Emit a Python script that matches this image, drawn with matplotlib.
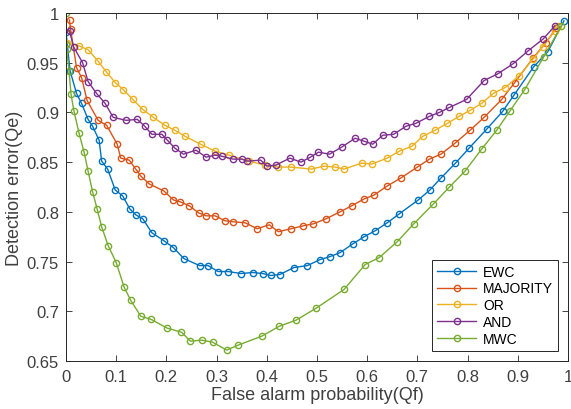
import matplotlib
matplotlib.use("Agg")
import matplotlib.pyplot as plt

plt.rcParams['font.family'] = ['Liberation Sans', 'DejaVu Sans']

# EWC
ewc_x = [0.0, 0.008, 0.021, 0.031, 0.044, 0.053, 0.066, 0.071, 0.083, 0.098, 0.113, 0.127,
         0.139, 0.153, 0.171, 0.195, 0.214, 0.235, 0.266, 0.283, 0.303, 0.323, 0.348, 0.373,
         0.392, 0.408, 0.426, 0.454, 0.481, 0.506, 0.526, 0.546, 0.572, 0.594, 0.616, 0.640,
         0.664, 0.702, 0.725, 0.747, 0.776, 0.803, 0.838, 0.870, 0.892, 0.932, 0.960, 0.992]
ewc_y = [0.981, 0.942, 0.919, 0.909, 0.893, 0.886, 0.872, 0.851, 0.843, 0.822, 0.816, 0.803,
         0.797, 0.793, 0.779, 0.771, 0.764, 0.753, 0.746, 0.746, 0.740, 0.740, 0.738, 0.739,
         0.738, 0.736, 0.737, 0.744, 0.746, 0.752, 0.755, 0.759, 0.768, 0.775, 0.781, 0.789,
         0.798, 0.812, 0.822, 0.834, 0.849, 0.864, 0.883, 0.901, 0.917, 0.946, 0.961, 0.992]

# MAJORITY
maj_x = [0.007, 0.009, 0.021, 0.031, 0.042, 0.064, 0.081, 0.102, 0.109, 0.126, 0.139, 0.149,
         0.166, 0.195, 0.214, 0.228, 0.246, 0.264, 0.279, 0.297, 0.317, 0.333, 0.357, 0.381,
         0.405, 0.423, 0.448, 0.473, 0.493, 0.518, 0.546, 0.569, 0.594, 0.614, 0.640, 0.667,
         0.700, 0.724, 0.747, 0.775, 0.805, 0.833, 0.868, 0.894, 0.931, 0.956, 0.977]
maj_y = [0.993, 0.984, 0.945, 0.935, 0.912, 0.892, 0.887, 0.868, 0.854, 0.852, 0.843, 0.836,
         0.828, 0.821, 0.812, 0.810, 0.806, 0.799, 0.796, 0.796, 0.791, 0.790, 0.789, 0.783,
         0.787, 0.780, 0.783, 0.786, 0.788, 0.793, 0.800, 0.806, 0.813, 0.817, 0.826, 0.834,
         0.845, 0.853, 0.858, 0.869, 0.882, 0.895, 0.913, 0.930, 0.955, 0.970, 0.985]

# OR
or_x = [0.002, 0.025, 0.044, 0.063, 0.080, 0.098, 0.114, 0.133, 0.153, 0.174, 0.197, 0.217,
        0.237, 0.268, 0.297, 0.325, 0.365, 0.396, 0.423, 0.448, 0.489, 0.514, 0.536, 0.554,
        0.589, 0.609, 0.640, 0.664, 0.689, 0.711, 0.735, 0.760, 0.783, 0.805, 0.828, 0.851,
        0.875, 0.903, 0.931, 0.950, 0.974, 0.980]
or_y = [0.970, 0.967, 0.963, 0.952, 0.941, 0.930, 0.923, 0.913, 0.903, 0.895, 0.887, 0.882,
        0.876, 0.868, 0.861, 0.857, 0.851, 0.847, 0.845, 0.845, 0.843, 0.846, 0.845, 0.843,
        0.849, 0.848, 0.854, 0.861, 0.866, 0.876, 0.882, 0.889, 0.896, 0.902, 0.909, 0.919,
        0.925, 0.937, 0.954, 0.966, 0.982, 0.987]

# AND
and_x = [0.007, 0.015, 0.033, 0.044, 0.061, 0.078, 0.094, 0.120, 0.142, 0.157, 0.171, 0.191,
         0.202, 0.217, 0.234, 0.259, 0.279, 0.297, 0.310, 0.333, 0.350, 0.361, 0.388, 0.400,
         0.418, 0.446, 0.468, 0.487, 0.503, 0.525, 0.549, 0.576, 0.594, 0.611, 0.631, 0.653,
         0.677, 0.697, 0.724, 0.744, 0.764, 0.798, 0.833, 0.861, 0.891, 0.921, 0.951, 0.974]
and_y = [0.982, 0.966, 0.950, 0.931, 0.919, 0.909, 0.895, 0.892, 0.893, 0.886, 0.878, 0.878,
         0.872, 0.864, 0.858, 0.862, 0.855, 0.857, 0.856, 0.853, 0.853, 0.851, 0.852, 0.846,
         0.847, 0.854, 0.850, 0.855, 0.860, 0.858, 0.865, 0.874, 0.871, 0.868, 0.877, 0.878,
         0.886, 0.889, 0.896, 0.900, 0.905, 0.913, 0.932, 0.939, 0.949, 0.962, 0.974, 0.987]

# MWC
mwc_x = [0.0, 0.0, 0.001, 0.006, 0.010, 0.016, 0.026, 0.036, 0.044, 0.053, 0.062, 0.071,
         0.084, 0.100, 0.116, 0.129, 0.149, 0.169, 0.202, 0.230, 0.248, 0.270, 0.292, 0.320,
         0.343, 0.390, 0.425, 0.458, 0.498, 0.554, 0.596, 0.624, 0.660, 0.693, 0.732, 0.764,
         0.795, 0.828, 0.858, 0.884, 0.914, 0.952, 0.987]
mwc_y = [1.000, 0.969, 0.964, 0.942, 0.918, 0.901, 0.879, 0.860, 0.841, 0.820, 0.803, 0.785,
         0.766, 0.749, 0.724, 0.711, 0.695, 0.692, 0.683, 0.679, 0.670, 0.671, 0.669, 0.661,
         0.666, 0.675, 0.685, 0.691, 0.703, 0.722, 0.747, 0.754, 0.770, 0.788, 0.808, 0.825,
         0.841, 0.863, 0.882, 0.901, 0.923, 0.956, 0.987]

series = [
    ("EWC", ewc_x, ewc_y, '#0072BD'),
    ("MAJORITY", maj_x, maj_y, '#D95319'),
    ("OR", or_x, or_y, '#EDB120'),
    ("AND", and_x, and_y, '#7E2F8E'),
    ("MWC", mwc_x, mwc_y, '#77AC30'),
]

fig = plt.figure(figsize=(5.71, 4.10), dpi=100)
ax = fig.add_axes([0.1156, 0.117, 0.879, 0.849])

for name, xs, ys, c in series:
    ax.plot(xs, ys, '-o', color=c, label=name, linewidth=1.0,
            markersize=4.5, markerfacecolor='none', markeredgewidth=1.0)

gray = '#262626'
ax.set_xlim(0, 1)
ax.set_ylim(0.65, 1)
ax.set_xticks([i / 10 for i in range(11)])
ax.set_xticklabels(['0', '0.1', '0.2', '0.3', '0.4', '0.5', '0.6', '0.7', '0.8', '0.9', '1'])
ax.set_yticks([0.65, 0.7, 0.75, 0.8, 0.85, 0.9, 0.95, 1])
ax.set_yticklabels(['0.65', '0.7', '0.75', '0.8', '0.85', '0.9', '0.95', '1'])
ax.tick_params(direction='in', top=True, right=True, length=4, width=0.6,
               colors=gray, labelsize=12, labelcolor='#404040')
ax.tick_params(axis='x', pad=6)
ax.tick_params(axis='y', pad=5)
for s in ax.spines.values():
    s.set_color(gray)
    s.set_linewidth(0.7)

ax.set_xlabel("False alarm probability(Qf)", fontsize=13, color='#404040', labelpad=1)
ax.set_ylabel("Detection error(Qe)", fontsize=13, color='#404040', labelpad=3)

leg = ax.legend(loc='lower right', bbox_to_anchor=(0.98, 0.03), borderaxespad=0,
                fontsize=10, handlelength=2.8, borderpad=0.35, labelspacing=0.2,
                handletextpad=0.5, fancybox=False, framealpha=1, edgecolor=gray)
leg.get_frame().set_linewidth(0.7)

fig.savefig("out.png", dpi=100)
